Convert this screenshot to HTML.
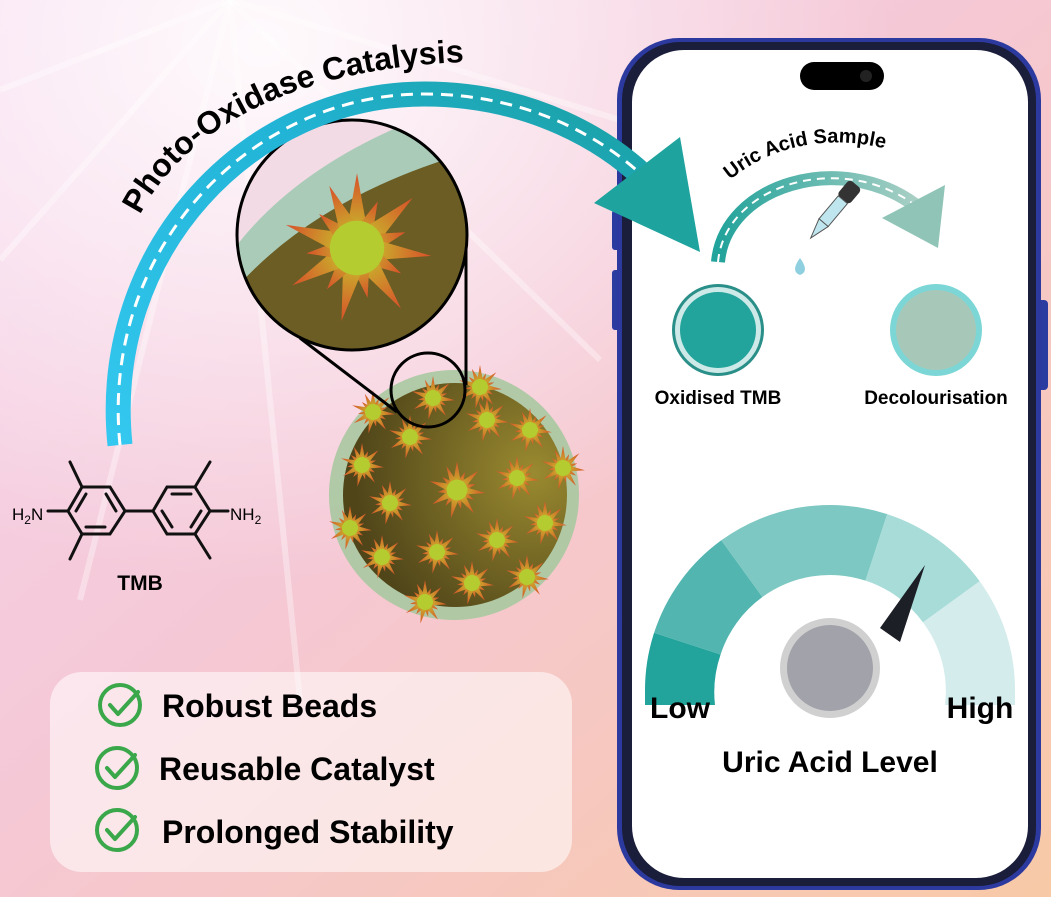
<!DOCTYPE html>
<html><head><meta charset="utf-8"><style>
html,body{margin:0;padding:0;width:1051px;height:897px;overflow:hidden}
svg{display:block}
text,textPath{font-family:"Liberation Sans",sans-serif;font-weight:bold}
</style></head><body>
<svg width="1051" height="897" viewBox="0 0 1051 897" xmlns="http://www.w3.org/2000/svg">
<defs>
<linearGradient id="bg" x1="0" y1="0" x2="1" y2="1">
<stop offset="0" stop-color="#f6d6ee"/><stop offset="0.45" stop-color="#f5c8d6"/><stop offset="1" stop-color="#f8c9a6"/>
</linearGradient>
<radialGradient id="glow" cx="0.25" cy="0.05" r="0.6">
<stop offset="0" stop-color="#fff" stop-opacity="0.9"/><stop offset="1" stop-color="#fff" stop-opacity="0"/>
</radialGradient>
<linearGradient id="arr" x1="0" y1="1" x2="1" y2="0">
<stop offset="0" stop-color="#34c8f0"/><stop offset="0.6" stop-color="#22b4d6"/><stop offset="1" stop-color="#1a9e9e"/>
</linearGradient>
<linearGradient id="arr2" x1="0" y1="0" x2="1" y2="0">
<stop offset="0" stop-color="#22a39b"/><stop offset="1" stop-color="#a8cfc4"/>
</linearGradient>
<radialGradient id="olive" cx="0.85" cy="0.4" r="0.8">
<stop offset="0" stop-color="#9a8a30"/><stop offset="1" stop-color="#4f4519"/>
</radialGradient>
<linearGradient id="spk" x1="0" y1="1" x2="0" y2="0">
<stop offset="0" stop-color="#c4d02c"/><stop offset="1" stop-color="#d8502a"/>
</linearGradient>
<g id="st">
<polygon points="-4,0 4,0 0,-22" fill="url(#spk)"/>
<polygon points="-4,0 4,0 0,-15" fill="url(#spk)" transform="rotate(24)"/>
<polygon points="-4,0 4,0 0,-22" fill="url(#spk)" transform="rotate(48)"/>
<polygon points="-4,0 4,0 0,-15" fill="url(#spk)" transform="rotate(72)"/>
<polygon points="-4,0 4,0 0,-22" fill="url(#spk)" transform="rotate(96)"/>
<polygon points="-4,0 4,0 0,-15" fill="url(#spk)" transform="rotate(120)"/>
<polygon points="-4,0 4,0 0,-22" fill="url(#spk)" transform="rotate(144)"/>
<polygon points="-4,0 4,0 0,-15" fill="url(#spk)" transform="rotate(168)"/>
<polygon points="-4,0 4,0 0,-22" fill="url(#spk)" transform="rotate(192)"/>
<polygon points="-4,0 4,0 0,-15" fill="url(#spk)" transform="rotate(216)"/>
<polygon points="-4,0 4,0 0,-22" fill="url(#spk)" transform="rotate(240)"/>
<polygon points="-4,0 4,0 0,-15" fill="url(#spk)" transform="rotate(264)"/>
<polygon points="-4,0 4,0 0,-22" fill="url(#spk)" transform="rotate(288)"/>
<polygon points="-4,0 4,0 0,-15" fill="url(#spk)" transform="rotate(312)"/>
<polygon points="-4,0 4,0 0,-20" fill="url(#spk)" transform="rotate(336)"/>
<circle r="8" fill="#b4cc30"/>
</g>
</defs>
<rect width="1051" height="897" fill="url(#bg)"/>
<rect width="1051" height="897" fill="url(#glow)"/>
<g stroke="#fff" stroke-opacity="0.35" stroke-width="6">
<line x1="230" y1="0" x2="0" y2="260"/><line x1="230" y1="0" x2="80" y2="600"/>
<line x1="230" y1="0" x2="600" y2="360"/><line x1="230" y1="0" x2="620" y2="120"/>
<line x1="230" y1="0" x2="300" y2="700"/><line x1="230" y1="0" x2="0" y2="90"/>
</g>

<!-- bead -->
<circle cx="454" cy="495" r="125" fill="#a8c8a0" opacity="0.9"/>
<circle cx="455" cy="495" r="112" fill="url(#olive)"/>
<g>
<use href="#st" x="433" y="398"/><use href="#st" x="480" y="387"/><use href="#st" x="373" y="412"/>
<use href="#st" x="410" y="437"/><use href="#st" x="487" y="420"/><use href="#st" x="530" y="430"/>
<use href="#st" x="362" y="465"/>
<use href="#st" transform="translate(457 490) scale(1.3)"/>
<use href="#st" x="517" y="478"/><use href="#st" x="563" y="468"/><use href="#st" x="390" y="503"/>
<use href="#st" x="545" y="523"/><use href="#st" x="350" y="528"/><use href="#st" x="497" y="540"/>
<use href="#st" x="437" y="552"/><use href="#st" x="382" y="557"/><use href="#st" x="472" y="583"/>
<use href="#st" x="527" y="577"/><use href="#st" x="425" y="602"/>
</g>
<circle cx="428" cy="390" r="37" fill="none" stroke="#000" stroke-width="3"/>
<line x1="300" y1="338" x2="397" y2="412" stroke="#000" stroke-width="3"/>
<line x1="466" y1="235" x2="466" y2="385" stroke="#000" stroke-width="3"/>

<!-- magnifier -->
<clipPath id="mc"><circle cx="352" cy="235" r="115"/></clipPath>
<g clip-path="url(#mc)">
<rect x="230" y="110" width="250" height="250" fill="#f3dbe6"/>
<path d="M237,245 Q300,165 420,118 L480,110 L480,360 L237,360 Z" fill="#a9cbb8"/>
<path d="M237,287 Q320,195 470,152 L480,360 L237,360 Z" fill="#6b5d24"/>
<use href="#st" transform="translate(357 248) scale(3.4)"/>
</g>
<circle cx="352" cy="235" r="115" fill="none" stroke="#000" stroke-width="3"/>

<!-- TMB -->
<g stroke="#111" stroke-width="3" fill="none" stroke-linecap="round">
<polygon points="82,487 110,487 125,511 110,534 82,534 68,511"/>
<polygon points="167,487 195,487 210,511 195,534 167,534 153,511"/>
<line x1="125" y1="511" x2="153" y2="511"/>
<line x1="82" y1="487" x2="70" y2="462"/><line x1="82" y1="534" x2="70" y2="559"/>
<line x1="195" y1="487" x2="210" y2="462"/><line x1="195" y1="534" x2="210" y2="558"/>
<line x1="68" y1="511" x2="48" y2="511"/><line x1="210" y1="511" x2="228" y2="511"/>
<line x1="86" y1="494" x2="76" y2="511"/><line x1="86" y1="527" x2="105" y2="527"/><line x1="116" y1="511" x2="106" y2="494"/>
<line x1="172" y1="494" x2="191" y2="494"/><line x1="201" y1="511" x2="191" y2="527"/><line x1="172" y1="527" x2="162" y2="511"/>
</g>
<text x="12" y="520" font-size="17" style="font-weight:normal">H<tspan font-size="12" dy="4">2</tspan><tspan dy="-4">N</tspan></text>
<text x="230" y="520" font-size="17" style="font-weight:normal">NH<tspan font-size="12" dy="4">2</tspan></text>
<text x="140" y="590" font-size="21" text-anchor="middle">TMB</text>

<!-- checklist -->
<rect x="50" y="672" width="522" height="200" rx="32" fill="#fff" fill-opacity="0.55"/>
<g fill="none" stroke="#3aa84a" stroke-width="4" stroke-linecap="round" stroke-linejoin="round">
<circle cx="120" cy="705" r="20"/><path d="M110,705 L118,714 L138,692"/>
<circle cx="117" cy="768" r="20"/><path d="M107,768 L115,777 L135,755"/>
<circle cx="117" cy="830" r="20"/><path d="M107,830 L115,839 L135,817"/>
</g>
<text x="162" y="717" font-size="32">Robust Beads</text>
<text x="159" y="780" font-size="32">Reusable Catalyst</text>
<text x="162" y="843" font-size="32">Prolonged Stability</text>

<!-- phone -->
<rect x="1036" y="300" width="12" height="90" rx="4" fill="#2a3ca0"/>
<rect x="612" y="270" width="10" height="60" rx="3" fill="#2a3ca0"/>
<rect x="612" y="210" width="10" height="40" rx="3" fill="#2a3ca0"/>
<rect x="617" y="38" width="424" height="852" rx="62" fill="#2c3aa0"/>
<rect x="622" y="42" width="414" height="844" rx="58" fill="#1b1e3a"/>
<rect x="632" y="50" width="396" height="828" rx="52" fill="#fff"/>
<rect x="800" y="62" width="84" height="28" rx="14" fill="#000"/>
<circle cx="866" cy="76" r="6" fill="#222"/>

<!-- big arrow (over phone) -->
<path d="M120,445 C100,250 250,94 424,94 C530,94 610,140 655,188" fill="none" stroke="url(#arr)" stroke-width="25"/>
<path d="M120,445 C100,250 250,94 424,94 C530,94 610,140 655,188" fill="none" stroke="#fff" stroke-width="3" stroke-dasharray="12 8"/>
<polygon points="594,203 680,137 700,252" fill="#1fa39e"/>
<path id="tp" d="M140,215 C190,118 320,55 525,62" fill="none"/>
<text font-size="32" font-weight="bold" fill="#000"><textPath href="#tp" font-weight="bold">Photo-Oxidase Catalysis</textPath></text>

<!-- small arrow -->
<path d="M718,262 C725,185 840,150 915,205" fill="none" stroke="url(#arr2)" stroke-width="14"/>
<path d="M718,262 C725,185 840,150 915,205" fill="none" stroke="#fff" stroke-width="2" stroke-dasharray="8 6"/>
<polygon points="882,218 945,185 938,248" fill="#8fc4b6"/>
<path id="tp2" d="M730,180 C790,130 880,130 955,180" fill="none"/>
<text font-size="20" font-weight="bold"><textPath href="#tp2" font-weight="bold">Uric Acid Sample</textPath></text>
<!-- dropper -->
<g transform="rotate(40 830 215)">
<rect x="822" y="175" width="16" height="20" rx="4" fill="#333"/>
<rect x="824" y="195" width="12" height="30" fill="#bfe6ee" stroke="#555" stroke-width="1"/>
<polygon points="824,225 836,225 830,245" fill="#bfe6ee" stroke="#555" stroke-width="1"/>
</g>
<path d="M800,258 C795,265 792,272 800,275 C808,272 805,265 800,258Z" fill="#8fd0e0"/>

<circle cx="718" cy="330" r="46" fill="#2a8f88"/>
<circle cx="718" cy="330" r="43" fill="#cde9e8"/>
<circle cx="718" cy="330" r="38" fill="#22a39b"/>
<circle cx="936" cy="330" r="46" fill="#7dd6d6"/>
<circle cx="936" cy="330" r="40" fill="#a7c8b8"/>
<text x="718" y="404" font-size="19" text-anchor="middle">Oxidised TMB</text>
<text x="936" y="404" font-size="19" text-anchor="middle">Decolourisation</text>

<!-- gauge -->
<g transform="translate(830 690)">
<path d="M-185,0 A185,185 0 0 1 -175.9,-57.2 L-109.4,-35.5 A115,115 0 0 0 -115,15 L-185,15 Z" fill="#22a39b"/>
<path d="M-175.9,-57.2 A185,185 0 0 1 -108.7,-149.7 L-67.6,-93 A115,115 0 0 0 -109.4,-35.5 Z" fill="#52b5b0"/>
<path d="M-108.7,-149.7 A185,185 0 0 1 57.2,-175.9 L35.5,-109.4 A115,115 0 0 0 -67.6,-93 Z" fill="#7dc8c2"/>
<path d="M57.2,-175.9 A185,185 0 0 1 149.7,-108.7 L93,-67.6 A115,115 0 0 0 35.5,-109.4 Z" fill="#a8dcd8"/>
<path d="M149.7,-108.7 A185,185 0 0 1 185,0 L185,15 L115,15 A115,115 0 0 0 93,-67.6 Z" fill="#d4ecec"/>
<path d="M95,-125 L70,-48 L50,-62 Z" fill="#1c1f26"/>
<circle cx="0" cy="-22" r="50" fill="#d0d0d0"/>
<circle cx="0" cy="-22" r="43" fill="#a2a3aa"/>
</g>
<text x="680" y="718" font-size="30" text-anchor="middle">Low</text>
<text x="980" y="718" font-size="30" text-anchor="middle">High</text>
<text x="830" y="772" font-size="30" text-anchor="middle">Uric Acid Level</text>
</svg>
</body></html>
